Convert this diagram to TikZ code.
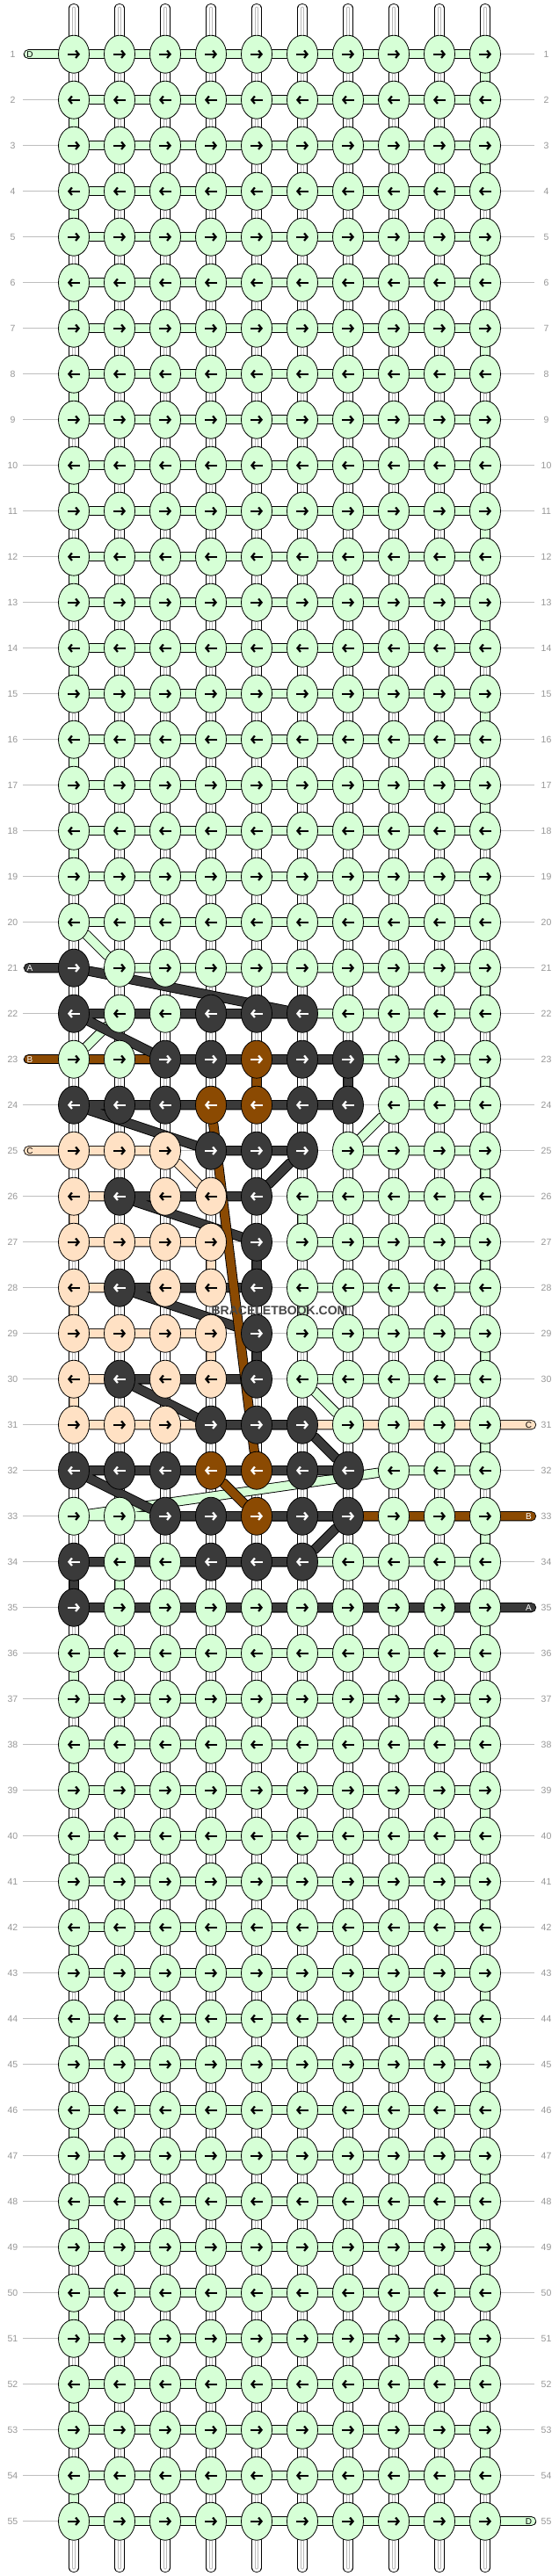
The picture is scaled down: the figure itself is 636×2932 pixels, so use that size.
\documentclass[tikz,border=0pt]{standalone}
\usepackage{fontspec}
\setmainfont{Liberation Sans}
\usepackage{xcolor}
\usepackage{tikz}
\usetikzlibrary{shapes.geometric,arrows.meta}
\pgfdeclarelayer{bg}
\pgfsetlayers{bg,main}
\definecolor{colG}{RGB}{214,255,214}
\definecolor{colK}{RGB}{58,58,58}
\definecolor{colB}{RGB}{139,74,2}
\definecolor{colP}{RGB}{255,225,196}
\colorlet{arrG}{black}
\colorlet{arrP}{black}
\colorlet{arrK}{white}
\colorlet{arrB}{white}
\definecolor{guidegray}{RGB}{190,190,190}
\definecolor{labelgray}{RGB}{150,150,150}
\tikzstyle{knot} = [ellipse, draw=black, line width=0.8pt, minimum width=35pt, minimum height=43pt, inner sep=0pt]
\tikzstyle{pointer} = [line width=2.2pt, -{Straight Barb[length=3.5pt,width=8.5pt]}]
\tikzstyle{warp} = [draw=black, line width=0.9pt, double=white, double distance=9.5pt, line cap=round]
\tikzstyle{warpcore} = [draw=gray!55, line width=0.8pt, double=white, double distance=2.4pt, line cap=round]
\tikzstyle{guide} = [draw=guidegray, line width=0.9pt]
\tikzstyle{rowlabel} = [text=labelgray, font=\fontsize{10.5}{12}\selectfont, inner sep=0pt]
\tikzstyle{endlabel} = [font=\fontsize{10}{12}\selectfont, inner sep=0pt]
\tikzstyle{watermark} = [font=\bfseries\fontsize{14}{16}\selectfont, text=black!72, inner sep=0pt]
\tikzset{thread/.style={draw=black, line width=0.9pt, double=#1, double distance=9.5pt, line cap=round, line join=round}}
% knot colours of the rows with a motif
\newcommand{\knotrow}[2]{\expandafter\def\csname pat#1\endcsname{#2}}
\knotrow{21}{K,G,G,G,G,G,G,G,G,G}
\knotrow{22}{K,G,G,K,K,K,G,G,G,G}
\knotrow{23}{G,G,K,K,B,K,K,G,G,G}
\knotrow{24}{K,K,K,B,B,K,K,G,G,G}
\knotrow{25}{P,P,P,K,K,K,G,G,G,G}
\knotrow{26}{P,K,P,P,K,G,G,G,G,G}
\knotrow{27}{P,P,P,P,K,G,G,G,G,G}
\knotrow{28}{P,K,P,P,K,G,G,G,G,G}
\knotrow{29}{P,P,P,P,K,G,G,G,G,G}
\knotrow{30}{P,K,P,P,K,G,G,G,G,G}
\knotrow{31}{P,P,P,K,K,K,G,G,G,G}
\knotrow{32}{K,K,K,B,B,K,K,G,G,G}
\knotrow{33}{G,G,K,K,B,K,K,G,G,G}
\knotrow{34}{K,G,G,K,K,K,G,G,G,G}
\knotrow{35}{K,G,G,G,G,G,G,G,G,G}
\begin{document}
\begin{tikzpicture}[x=1pt, y=-1pt]
        \useasboundingbox (0,0) rectangle (636,2932);
        % Knots
        \foreach \r in {1,...,55}{
            \ifcsname pat\r\endcsname \edef\pat{\csname pat\r\endcsname}\else \def\pat{G,G,G,G,G,G,G,G,G,G}\fi
            \node[rowlabel] (ll\r) at (14.5,{9.7+52*\r}) {\r};
            \node[rowlabel] (rl\r) at (621.5,{9.7+52*\r}) {\r};
            \coordinate (gl\r) at (26,{9.7+52*\r});
            \coordinate (gr\r) at (608,{9.7+52*\r});
            \foreach \k [count=\c] in \pat {
                \node[knot, fill=col\k] (k\r-\c) at ({32+52*\c},{9.7+52*\r}) {};
                \ifodd\r
                    \draw[pointer, draw=arr\k] ([xshift=-7pt]k\r-\c.center) -- ([xshift=7pt]k\r-\c.center);
                \else
                    \draw[pointer, draw=arr\k] ([xshift=7pt]k\r-\c.center) -- ([xshift=-7pt]k\r-\c.center);
                \fi
            }
        }
        \foreach \c in {1,...,10}{
            \coordinate (top\c) at ({32+52*\c},9.5);
            \coordinate (bot\c) at ({32+52*\c},2922.5);
        }
        % Thread ends
        \coordinate (dstart) at (32.5,61.7);
        \coordinate (dend) at (604.5,2869.7);
        \coordinate (astart) at (32.5,1101.7);
        \coordinate (aend) at (604.5,1829.7);
        \coordinate (bstart) at (32.5,1205.7);
        \coordinate (bend) at (604.5,1725.7);
        \coordinate (cstart) at (32.5,1309.7);
        \coordinate (cend) at (604.5,1621.7);
        \node[endlabel] (dl) at (34,61.7) {D};
        \node[endlabel] (dr) at (601.5,2869.7) {D};
        \node[endlabel, text=white] (al) at (34,1101.7) {A};
        \node[endlabel, text=white] (ar) at (601.5,1829.7) {A};
        \node[endlabel, text=white] (bl) at (34,1205.7) {B};
        \node[endlabel, text=white] (br) at (601.5,1725.7) {B};
        \node[endlabel] (cl) at (34,1309.7) {C};
        \node[endlabel] (cr) at (601.5,1621.7) {C};
        \node[watermark] (wm) at (318,1492) {BRACELETBOOK.COM};
        \begin{pgfonlayer}{bg}
            % guides and warps
            \foreach \r in {1,...,55} \draw[guide] (gl\r) -- (gr\r);
            \foreach \c in {1,...,10}{
                \draw[warp] (top\c) -- (bot\c);
                \draw[warpcore] (top\c) -- (bot\c);
            }
            % thread D, plain rows
            \foreach \r in {1,...,20,36,37,...,55} \draw[thread=colG] (k\r-1) -- (k\r-10);
            \foreach \r/\s in {1/2,3/4,5/6,7/8,9/10,11/12,13/14,15/16,17/18,19/20,35/36,37/38,39/40,41/42,43/44,45/46,47/48,49/50,51/52,53/54}
                \draw[thread=colG] (k\r-10) -- (k\s-10);
            \foreach \r/\s in {2/3,4/5,6/7,8/9,10/11,12/13,14/15,16/17,18/19,36/37,38/39,40/41,42/43,44/45,46/47,48/49,50/51,52/53,54/55}
                \draw[thread=colG] (k\r-1) -- (k\s-1);
            \draw[thread=colG] (dstart) -- (k1-1);
            \draw[thread=colG] (k55-10) -- (dend);
            % thread D, motif rows
            \draw[thread=colG] (k20-1) -- (k21-2) -- (k21-10) -- (k22-10) -- (k22-3) -- (k22-2) -- (k23-1) -- (k23-10) -- (k24-10)
                -- (k24-8) -- (k25-7) -- (k25-10) -- (k26-10) -- (k26-6) -- (k27-6) -- (k27-10) -- (k28-10) -- (k28-6)
                -- (k29-6) -- (k29-10) -- (k30-10) -- (k30-6) -- (k31-7) -- (k31-10) -- (k32-10) -- (k32-8) -- (k33-1)
                -- (k33-10) -- (k34-10) -- (k34-2) -- (k35-2) -- (k35-10);
            % thread C
            \draw[thread=colP] (cstart) -- (k25-1) -- (k25-3) -- (k26-4) -- (k26-1) -- (k27-1) -- (k27-4) -- (k28-4) -- (k28-1)
                -- (k29-1) -- (k29-4) -- (k30-4) -- (k30-1) -- (k31-1) -- (cend);
            % thread B
            \draw[thread=colB] (bstart) -- (k23-5) -- (k24-5) -- (k24-4);
            \draw[thread=colB] (k32-5) -- (k32-4) -- (k33-5) -- (bend);
            % thread A
            \draw[thread=colK] (astart) -- (k21-1) -- (k22-6) -- (k22-1) -- (k23-3) -- (k23-7) -- (k24-7) -- (k24-1)
                -- (k25-4) -- (k25-6) -- (k26-5) -- (k26-2) -- (k27-5) -- (k28-5) -- (k28-2) -- (k29-5) -- (k30-5)
                -- (k30-2) -- (k31-4) -- (k31-6) -- (k32-7) -- (k32-1) -- (k33-3) -- (k33-7) -- (k34-6) -- (k34-1)
                -- (k35-1) -- (aend);
            \draw[thread=colB] (k24-4) -- (k32-5);
        \end{pgfonlayer}
    \end{tikzpicture}
\end{document}
